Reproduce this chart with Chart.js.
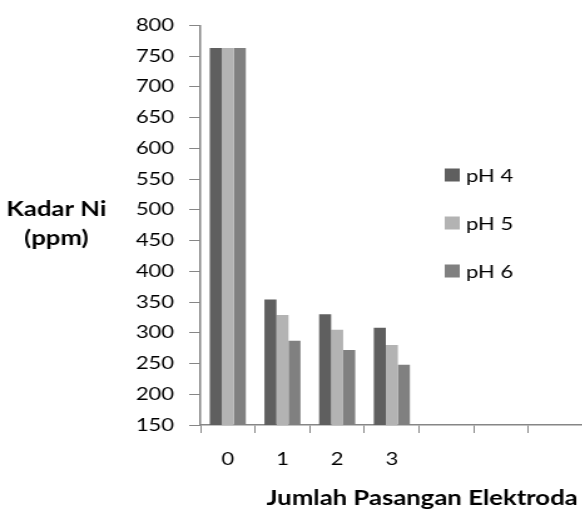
<!DOCTYPE html>
<html><head><meta charset="utf-8">
<script src="https://cdn.jsdelivr.net/npm/chart.js@4/dist/chart.umd.min.js"></script>
<style>
html,body{margin:0;padding:0;background:#fff;overflow:hidden;}
#wrap{position:absolute;left:0;top:0;width:465.6px;height:518px;transform:scaleX(1.25);transform-origin:0 0;}
</style></head>
<body>
<div id="wrap"><canvas id="c"></canvas></div>
<script>
const categories = ['0', '1', '2', '3', '', '', ''];
const seriesNames = ['pH 4', 'pH 5', 'pH 6'];
const ph4 = [763, 354, 330, 308, null, null, null];
const ph5 = [763, 329, 305, 280, null, null, null];
const ph6 = [763, 287, 272, 248, null, null, null];
const colors = ['#5f5f5f', '#b3b3b3', '#808080'];
const yTitle = ['Kadar Ni', '(ppm)'];
const xTitle = 'Jumlah Pasangan Elektroda';
const FONT = 'Lato';
const AXIS = '#868686';

const textPlugin = {
  id: 'texts',
  afterDraw(chart) {
    const ctx = chart.ctx;
    const ca = chart.chartArea;
    ctx.save();
    ctx.fillStyle = '#000';
    // y title
    ctx.font = 'bold 20.5px ' + FONT;
    ctx.textAlign = 'center';
    ctx.textBaseline = 'alphabetic';
    ctx.fillText(yTitle[0], 45, 215.5);
    ctx.fillText(yTitle[1], 45, 245);
    // x title
    ctx.fillText(xTitle, 337, 505);
    // legend
    ctx.font = '17.6px ' + FONT;
    ctx.textAlign = 'left';
    chart.data.datasets.forEach((ds, i) => {
      const cy = 175 + i * 48;
      ctx.fillStyle = ds.backgroundColor;
      ctx.fillRect(355, cy - 6.5, 12, 13);
      ctx.fillStyle = '#000';
      ctx.fillText(ds.label, 372, cy + 6.5);
    });
    ctx.restore();
  }
};

new Chart(document.getElementById('c'), {
  type: 'bar',
  data: {
    labels: categories,
    datasets: [
      {label: seriesNames[0], data: ph4, backgroundColor: colors[0]},
      {label: seriesNames[1], data: ph5, backgroundColor: colors[1]},
      {label: seriesNames[2], data: ph6, backgroundColor: colors[2]}
    ]
  },
  options: {
    responsive: true,
    maintainAspectRatio: false,
    animation: false,
    devicePixelRatio: 1,
    layout: {padding: {top: 25.3, right: 0, bottom: 0, left: 0}},
    datasets: {bar: {categoryPercentage: 0.66, barPercentage: 1.0, borderWidth: 0}},
    plugins: {legend: {display: false}, tooltip: {enabled: false}, title: {display: false}},
    scales: {
      x: {
        grid: {display: true, drawOnChartArea: false, drawTicks: true, tickLength: 8, color: AXIS, offset: true},
        border: {display: true, color: AXIS, width: 1.5},
        ticks: {color: '#000', font: {family: FONT, size: 17.6}, padding: 16, maxRotation: 0, autoSkip: false},
        afterFit: (s) => { s.height = 93; }
      },
      y: {
        min: 150, max: 800,
        grid: {display: true, drawOnChartArea: false, drawTicks: true, tickLength: 9, color: AXIS},
        border: {display: true, color: AXIS, width: 1.5},
        ticks: {stepSize: 50, color: '#000', font: {family: FONT, size: 17.6}, padding: 12},
        afterFit: (s) => { s.width = 160; }
      }
    }
  },
  plugins: [textPlugin]
});
</script>
</body></html>
